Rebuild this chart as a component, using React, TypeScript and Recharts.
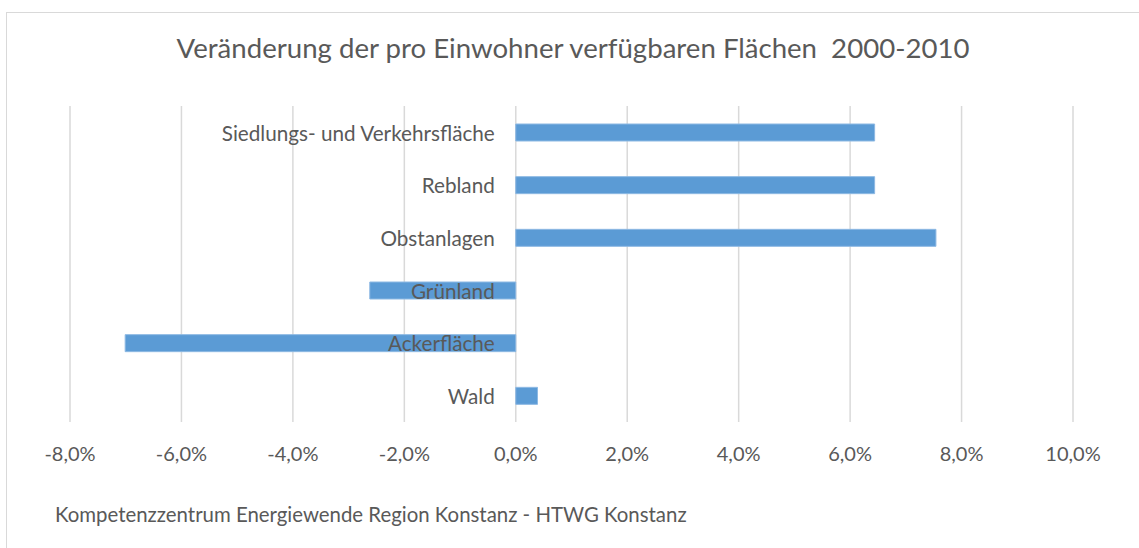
import React from 'react';
import { BarChart, Bar, XAxis, YAxis, CartesianGrid, LabelList } from 'recharts';

// Flächenkategorien (von oben nach unten)
const categories = [
  'Siedlungs- und Verkehrsfläche',
  'Rebland',
  'Obstanlagen',
  'Grünland',
  'Ackerfläche',
  'Wald',
];

// Veränderung 2000-2010 (Anteil)
const changes = [0.0644, 0.0644, 0.0754, -0.0262, -0.0701, 0.0039];

const xTicks = [-0.08, -0.06, -0.04, -0.02, 0, 0.02, 0.04, 0.06, 0.08, 0.1];

const title = 'Veränderung der pro Einwohner verfügbaren Flächen  2000-2010';
const footer = 'Kompetenzzentrum Energiewende Region Konstanz - HTWG Konstanz';

const data = categories.map((name, i) => ({ name, value: changes[i] }));

const FONT = 'Lato, "Open Sans", sans-serif';
const TEXT = '#595959';

const formatPct = (v: number) => (v * 100).toFixed(1).replace('.', ',') + '%';

const XTick = (props: any) => {
  const { x, y, payload } = props;
  return (
    <text x={x} y={y + 31} textAnchor="middle" fill={TEXT} fontSize={20} fontFamily={FONT}>
      {formatPct(payload.value)}
    </text>
  );
};

// Beschriftung rechtsbündig an der Nulllinie
const CategoryLabel = (props: any) => {
  const vb = props.viewBox ?? props;
  const { x, y, width, height } = vb;
  const v = changes[props.index];
  const zero = v >= 0 ? Math.min(x, x + width) : Math.max(x, x + width);
  return (
    <text
      x={zero - 21}
      y={y + height / 2}
      textAnchor="end"
      dominantBaseline="central"
      fill={TEXT}
      fontSize={20.7}
      fontFamily={FONT}
    >
      {categories[props.index]}
    </text>
  );
};

export default function App() {
  return (
    <div style={{ position: 'relative', width: 1139, height: 548, background: '#fff', overflow: 'hidden' }}>
      <style>{'body{margin:0}'}</style>
      <div
        style={{
          position: 'absolute',
          left: 6,
          top: 12,
          width: 1140,
          height: 560,
          border: '1px solid #d9d9d9',
          boxSizing: 'border-box',
        }}
      />
      <div
        style={{
          position: 'absolute',
          left: 0,
          width: 1146,
          top: 31,
          textAlign: 'center',
          fontFamily: FONT,
          fontSize: 27.6,
          color: TEXT,
          whiteSpace: 'pre',
        }}
      >
        {title}
      </div>
      <div
        style={{
          position: 'absolute',
          left: 55,
          top: 502,
          fontFamily: FONT,
          fontSize: 20.4,
          color: TEXT,
        }}
      >
        {footer}
      </div>
      <div style={{ position: 'absolute', left: 0, top: 0 }}>
        <BarChart
          width={1139}
          height={548}
          data={data}
          layout="vertical"
          margin={{ top: 106, right: 66, bottom: 86, left: 70 }}
        >
          <CartesianGrid horizontal={false} stroke="#d9d9d9" strokeWidth={1.5} />
          <XAxis
            type="number"
            domain={[-0.08, 0.1]}
            ticks={xTicks}
            axisLine={false}
            tickLine={false}
            tick={<XTick />}
            height={40}
            interval={0}
          />
          <YAxis type="category" dataKey="name" hide />
          <Bar dataKey="value" fill="#5b9bd5" stroke="#8db9e3" strokeWidth={1} barSize={17} isAnimationActive={false}>
            <LabelList dataKey="name" content={<CategoryLabel />} />
          </Bar>
        </BarChart>
      </div>
    </div>
  );
}
